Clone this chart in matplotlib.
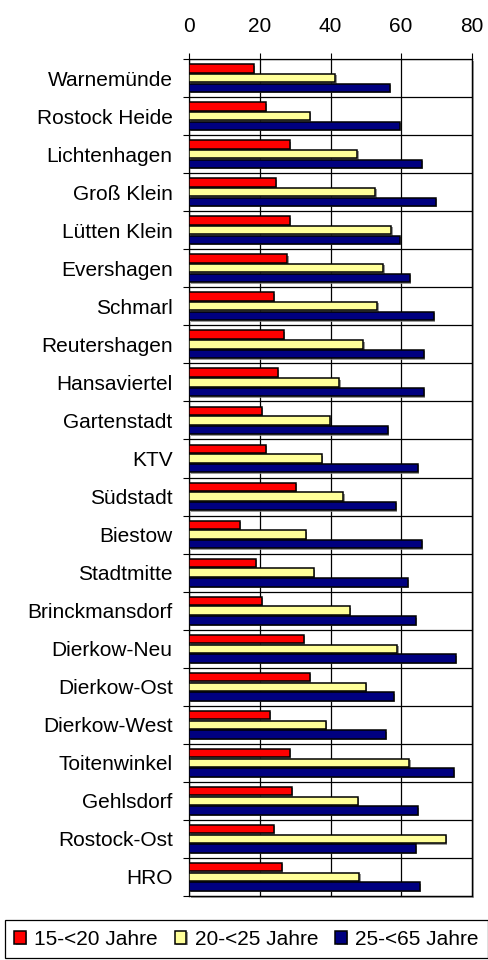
import numpy as np
import matplotlib.pyplot as plt
from matplotlib import patheffects as pe

plt.rcParams['font.family'] = ['Liberation Sans', 'DejaVu Sans']

# Stadtbereiche Rostock
bereiche = ['Warnemünde', 'Rostock Heide', 'Lichtenhagen', 'Groß Klein', 'Lütten Klein',
            'Evershagen', 'Schmarl', 'Reutershagen', 'Hansaviertel', 'Gartenstadt', 'KTV',
            'Südstadt', 'Biestow', 'Stadtmitte', 'Brinckmansdorf', 'Dierkow-Neu',
            'Dierkow-Ost', 'Dierkow-West', 'Toitenwinkel', 'Gehlsdorf', 'Rostock-Ost', 'HRO']

jahre_15_20 = [18.2, 21.6, 28.4, 24.5, 28.4, 27.8, 23.9, 26.7, 25.0, 20.5, 21.6,
               30.1, 14.3, 18.8, 20.5, 32.4, 34.1, 22.8, 28.4, 29.0, 23.9, 26.2]
jahre_20_25 = [41.4, 34.1, 47.6, 52.7, 57.2, 55.0, 53.3, 49.3, 42.5, 39.8, 37.5,
               43.6, 33.0, 35.2, 45.4, 58.9, 50.0, 38.6, 62.3, 47.7, 72.6, 48.2]
jahre_25_65 = [56.8, 59.6, 65.9, 69.8, 59.6, 62.4, 69.3, 66.5, 66.5, 56.3, 64.7,
               58.5, 65.9, 61.9, 64.2, 75.5, 58.0, 55.6, 75.0, 64.7, 64.1, 65.3]

serien = [('15-<20 Jahre', jahre_15_20, '#ff0000'),
          ('20-<25 Jahre', jahre_20_25, '#ffff99'),
          ('25-<65 Jahre', jahre_25_65, '#000080')]

W, H = 488, 960
fig = plt.figure(figsize=(W / 100, H / 100), dpi=100)
left, right, top, bottom = 189.3, 471.7, 59, 896
ax = fig.add_axes([left / W, 1 - bottom / H, (right - left) / W, (bottom - top) / H])

# grauer Schatten rechts/unten am Diagrammrahmen
ax.patch.set_path_effects([pe.SimplePatchShadow(offset=(1.5, -1.5), shadow_rgbFace='#a0a0a0', alpha=1),
                           pe.Normal()])

y = np.arange(len(bereiche))
bar_h = 0.22
step = 0.255
schatten = [pe.SimplePatchShadow(offset=(1, -1), shadow_rgbFace='#808080', alpha=0.8), pe.Normal()]
handles = []
for i, (name, werte, farbe) in enumerate(serien):
    bars = ax.barh(y + (i - 1) * step, werte, height=bar_h, color=farbe,
                   edgecolor='black', linewidth=1.1, label=name, zorder=3)
    for b in bars:
        b.set_path_effects(schatten)
    handles.append(bars)

ax.set_xlim(0, 80)
ax.set_ylim(len(bereiche) - 0.5, -0.5)
ax.xaxis.tick_top()
ax.set_xticks([0, 20, 40, 60, 80])
ax.tick_params(axis='x', length=4.3, width=0.8, pad=12.5, labelsize=15, color='black')
ax.set_yticks(y)
ax.set_yticklabels(bereiche)
ax.tick_params(axis='y', which='major', length=0, pad=12, labelsize=15)
ax.set_yticks(np.arange(-0.5, len(bereiche), 1), minor=True)
ax.tick_params(axis='y', which='minor', length=4.3, width=0.8)

ax.set_axisbelow(True)
ax.grid(axis='x', which='major', color='black', linewidth=0.9)
ax.grid(axis='y', which='minor', color='black', linewidth=0.9)
for s in ax.spines.values():
    s.set_color('black')
    s.set_linewidth(0.9)

leg = fig.legend(handles=handles, loc='lower left', ncol=3, mode='expand',
                 bbox_to_anchor=(5 / W, 2 / H, 483 / W, 39 / H), fontsize=15,
                 handlelength=0.55, handleheight=0.55, handletextpad=0.4,
                 borderaxespad=0, fancybox=False, framealpha=1, borderpad=0.45)
leg.get_frame().set_edgecolor('black')
leg.get_frame().set_linewidth(0.9)

fig.savefig('out.png', dpi=100)
